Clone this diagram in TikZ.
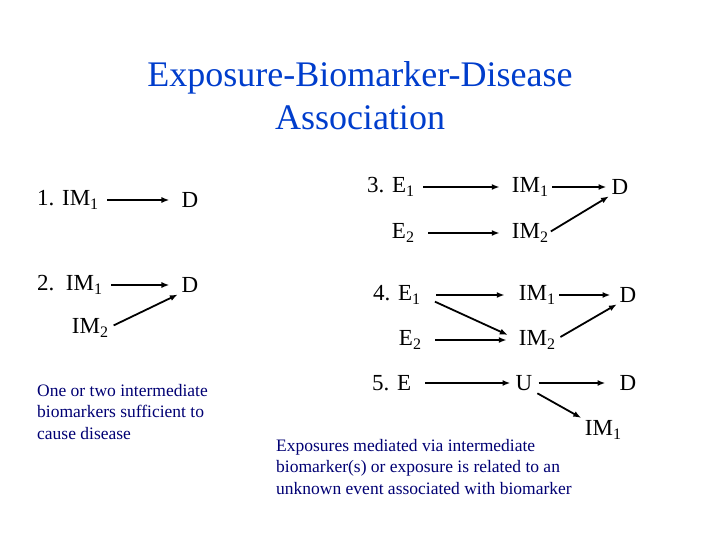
\documentclass[tikz,border=0pt]{standalone}
\usepackage{fontspec}
\setmainfont{Liberation Serif}
\usetikzlibrary{arrows.meta}
\newcommand{\subx}[1]{\raisebox{-0.45ex}{\fontsize{16}{16}\selectfont #1}}
\tikzset{
  lab/.style={font=\fontsize{23}{26}\selectfont, inner sep=0pt, text=black},
  arr/.style={-{Latex[length=8pt,width=6pt]}, line width=1.8pt, shorten <=9pt, shorten >=12pt},
  note/.style={font=\fontsize{17.5}{21.5}\selectfont, text=blue!45!black, align=left, anchor=north west, inner sep=0pt},
}
\begin{document}
\begin{tikzpicture}[x=1pt,y=-1pt]
\useasboundingbox (0,0) rectangle (720,540);
\node[font=\fontsize{36}{43}\selectfont, text=blue!70!cyan!80!black, align=center] (title) at (360,96) {Exposure-Biomarker-Disease\\Association};
% 1
\node[lab, anchor=west] (a1) at (37,200) {1. IM\subx{1}};
\node[lab] (d1) at (190,200) {D};
\draw[arr] (a1) -- (d1);
% 2
\node[lab, anchor=west] (a2) at (37,285) {2.\ \ IM\subx{1}};
\node[lab] (d2) at (190,285) {D};
\node[lab] (b2) at (90,328) {IM\subx{2}};
\draw[arr] (a2) -- (d2);
\draw[arr, shorten <=6pt, shorten >=4pt] (b2.east) -- (d2.south west);
\node[note] (n1) at (37,384) {One or two intermediate\\biomarkers sufficient to\\cause disease};
% 3
\node[lab, anchor=west] (e31) at (367,187) {3. E\subx{1}};
\node[lab] (m31) at (530,187) {IM\subx{1}};
\node[lab] (d3) at (620,187) {D};
\node[lab] (e32) at (403,233) {E\subx{2}};
\node[lab] (m32) at (530,233) {IM\subx{2}};
\draw[arr] (e31) -- (m31);
\draw[arr, shorten <=4pt, shorten >=5pt] (m31) -- (d3);
\draw[arr, shorten <=14pt, shorten >=12pt] (e32) -- (m32);
\draw[arr, shorten <=3pt, shorten >=3pt] (m32.east) -- (d3.south west);
% 4
\node[lab, anchor=west] (e41) at (373,295) {4. E\subx{1}};
\node[lab] (m41) at (537,295) {IM\subx{1}};
\node[lab] (d4) at (628,295) {D};
\node[lab] (e42) at (410,340) {E\subx{2}};
\node[lab] (m42) at (537,340) {IM\subx{2}};
\draw[arr, shorten <=16pt, shorten >=14pt] (e41) -- (m41);
\draw[arr, shorten <=16pt, shorten >=12pt] (e41.east) -- (m42.west);
\draw[arr, shorten <=14pt, shorten >=12pt] (e42) -- (m42);
\draw[arr, shorten <=4pt, shorten >=9pt] (m41) -- (d4);
\draw[arr, shorten <=6pt, shorten >=3pt] (m42.east) -- (d4.south west);
% 5
\node[lab, anchor=west] (e5) at (372,383) {5. E};
\node[lab] (u5) at (524,383) {U};
\node[lab] (d5) at (628,383) {D};
\node[lab] (m5) at (603,430) {IM\subx{1}};
\draw[arr, shorten <=14pt, shorten >=5pt] (e5) -- (u5);
\draw[arr, shorten <=6pt, shorten >=14pt] (u5) -- (d5);
\coordinate (us) at ([xshift=9pt]u5.south);
\draw[arr, shorten <=5pt, shorten >=4pt] (us) -- (m5.north west);
\node[note] (n2) at (276,439) {Exposures mediated via intermediate\\biomarker(s) or exposure is related to an\\unknown event associated with biomarker};
\end{tikzpicture}
\end{document}
